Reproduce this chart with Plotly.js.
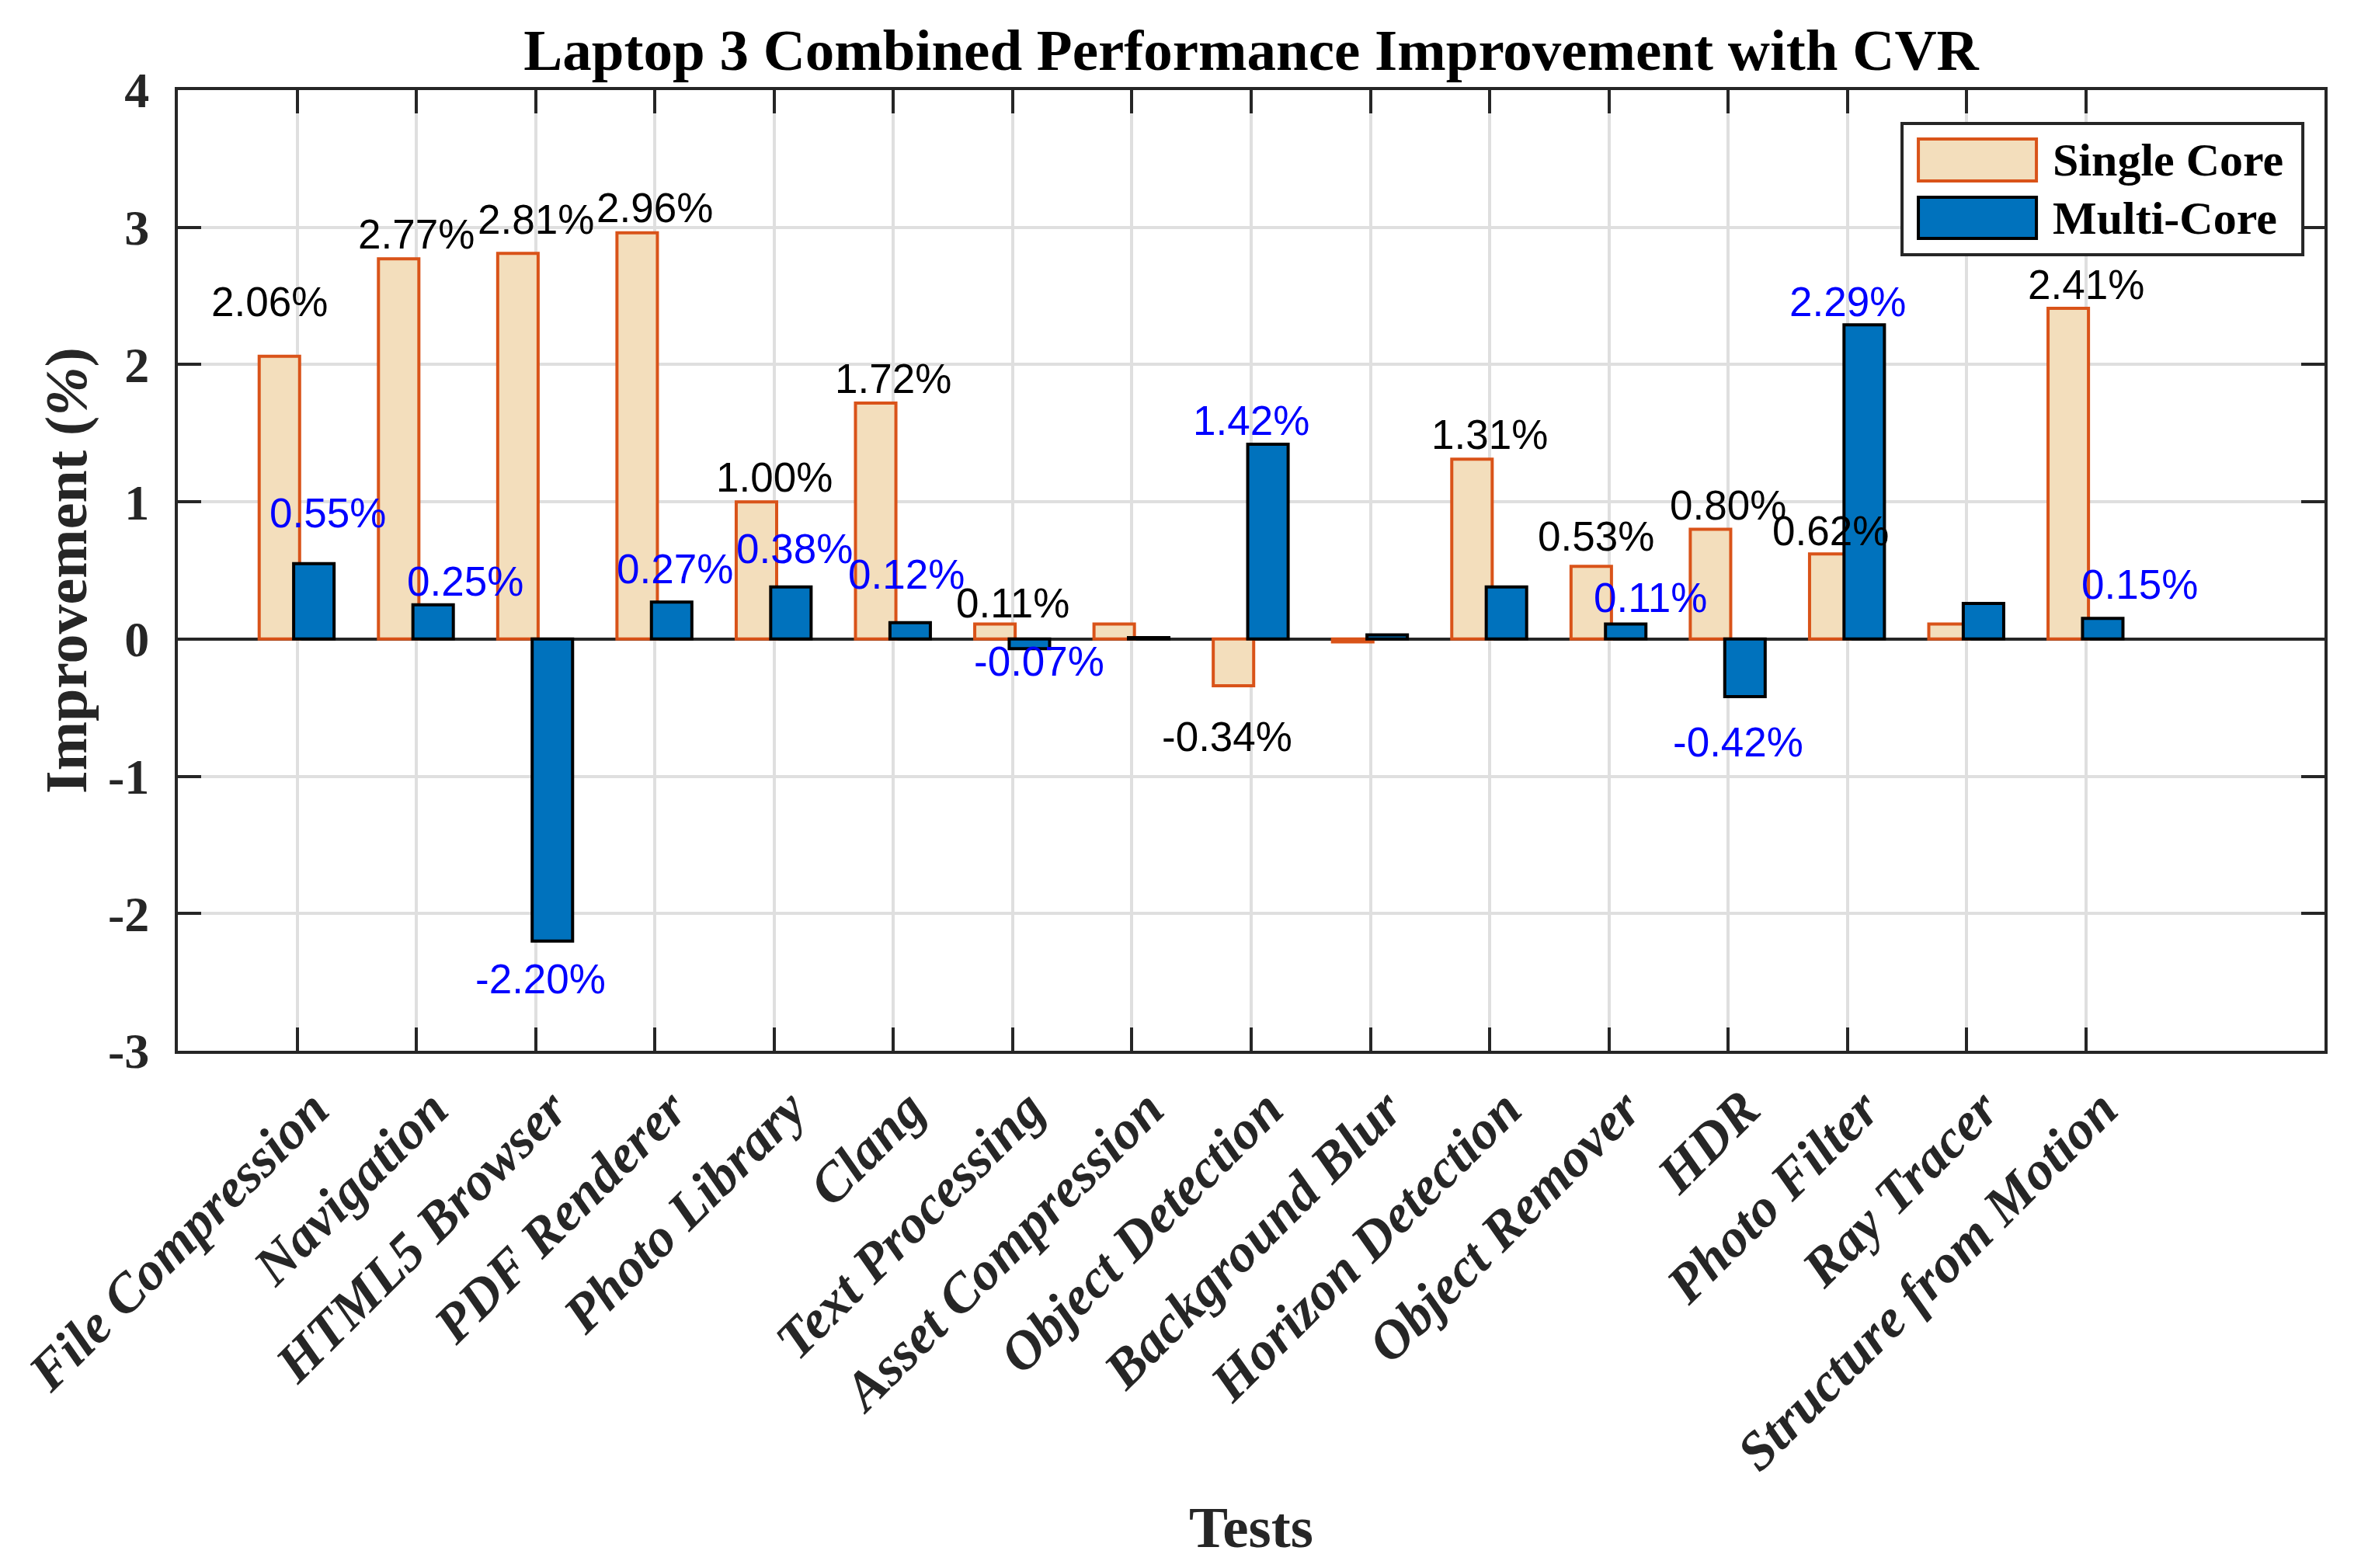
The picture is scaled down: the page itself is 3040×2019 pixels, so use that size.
<!DOCTYPE html>
<html>
<head>
<meta charset="utf-8">
<script src="https://cdn.plot.ly/plotly-3.0.1.min.js"></script>
<style>html,body{margin:0;padding:0;background:#fff;}</style>
</head>
<body>
<div id="chart" style="width:3040px;height:2019px;"></div>
<script>
// ---- data ----
const categories = ['File Compression','Navigation','HTML5 Browser','PDF Renderer','Photo Library','Clang','Text Processing','Asset Compression','Object Detection','Background Blur','Horizon Detection','Object Remover','HDR','Photo Filter','Ray Tracer','Structure from Motion'];
const singleCore = [2.06, 2.77, 2.81, 2.96, 1.00, 1.72, 0.11, 0.11, -0.34, -0.02, 1.31, 0.53, 0.80, 0.62, 0.11, 2.41];
const multiCore  = [0.55, 0.25, -2.20, 0.27, 0.38, 0.12, -0.07, 0.01, 1.42, 0.03, 0.38, 0.11, -0.42, 2.29, 0.26, 0.15];
const singleLabeled = [1,1,1,1,1,1,1,0,1,0,1,1,1,1,0,1];
const multiLabeled  = [1,1,1,1,1,1,1,0,1,0,0,1,1,1,0,1];
const yTickValues = [-3, -2, -1, 0, 1, 2, 3, 4];
const yTickLabels = ['-3', '-2', '-1', '0', '1', '2', '3', '4'];
const seriesNames = ['Single Core', 'Multi-Core'];

// ---- label placement tweaks (layout only) ----
const singleLabelDx = [-0.23, 0, 0, 0, 0, 0, 0, 0, -0.2, 0, 0, -0.11, 0, -0.14, 0, 0];
const singleLabelDy = [0.396, 0.18, 0.25, 0.18, 0.18, 0.18, 0.155, 0, -0.373, 0, 0.18, 0.22, 0.176, 0.166, 0, 0.17];
const multiLabelDx  = [0.26, 0.41, 0.04, 0.17, 0.17, 0.11, 0.22, 0, 0, 0, 0, 0.35, 0.08, 0, 0, 0.45];
const multiLabelDy  = [0.367, 0.17, -0.276, 0.24, 0.28, 0.35, -0.094, 0, 0.17, 0, 0, 0.19, -0.328, 0.17, 0, 0.25];

const serif = 'Liberation Serif, Times New Roman, serif';
const sans = 'Liberation Sans, Arial, Helvetica, sans-serif';
const axisColor = '#262626';
const singleFill = 'rgb(243,222,188)';
const singleEdge = '#D95319';
const multiFill = '#0072BD';
const multiEdge = '#000000';

const traces = [
  {type:'bar', name:seriesNames[0], x:categories, y:singleCore, width:0.339, offset:-0.318,
   marker:{color:singleFill, line:{color:singleEdge, width:4}}, showlegend:false},
  {type:'bar', name:seriesNames[1], x:categories, y:multiCore, width:0.339, offset:-0.029,
   marker:{color:multiFill, line:{color:multiEdge, width:4}}, showlegend:false}
];

const annotations = [];
categories.forEach((c, i) => {
  if (singleLabeled[i]) annotations.push({
    x: i + singleLabelDx[i], y: singleCore[i] + singleLabelDy[i], xref:'x', yref:'y',
    text: singleCore[i].toFixed(2) + '%', showarrow:false, xanchor:'center', yanchor:'middle',
    font:{family:sans, size:53, color:'#000000'}
  });
  if (multiLabeled[i]) annotations.push({
    x: i + multiLabelDx[i], y: multiCore[i] + multiLabelDy[i], xref:'x', yref:'y',
    text: multiCore[i].toFixed(2) + '%', showarrow:false, xanchor:'center', yanchor:'middle',
    font:{family:sans, size:53, color:'#0000FF'}
  });
});

// custom legend (paper coords)
const L = {x0:0.8032, x1:0.9899, y0:0.8286, y1:0.9652};
const shapes = [
  {type:'rect', xref:'paper', yref:'paper', x0:L.x0, x1:L.x1, y0:L.y0, y1:L.y1, fillcolor:'#ffffff', line:{color:axisColor, width:4}, layer:'above'},
  {type:'rect', xref:'paper', yref:'paper', x0:0.8108, x1:0.8658, y0:0.9054, y1:0.9491, fillcolor:singleFill, line:{color:singleEdge, width:4}, layer:'above'},
  {type:'rect', xref:'paper', yref:'paper', x0:0.8108, x1:0.8658, y0:0.8456, y1:0.8884, fillcolor:multiFill, line:{color:multiEdge, width:4}, layer:'above'}
];
annotations.push(
  {xref:'paper', yref:'paper', x:0.8726, y:0.9273, text:seriesNames[0], showarrow:false, xanchor:'left', yanchor:'middle', font:{family:serif, size:60, weight:'bold', color:'#000000'}},
  {xref:'paper', yref:'paper', x:0.8726, y:0.8670, text:seriesNames[1], showarrow:false, xanchor:'left', yanchor:'middle', font:{family:serif, size:60, weight:'bold', color:'#000000'}}
);

const layout = {
  width:3040, height:2019,
  margin:{l:229, r:47, t:116, b:666, pad:0},
  paper_bgcolor:'#ffffff', plot_bgcolor:'#ffffff',
  barmode:'overlay',
  title:{text:'Laptop 3 Combined Performance Improvement with CVR', font:{family:serif, size:75, weight:'bold', color:'#000000'},
         x:0.5, xref:'paper', y:1 - 64/2019, yref:'container', yanchor:'middle'},
  xaxis:{type:'category', range:[-1, 17], showgrid:true, gridcolor:'#dfdfdf', gridwidth:4,
         showline:true, linecolor:axisColor, linewidth:4, mirror:'ticks',
         ticks:'inside', ticklen:30, tickwidth:4, tickcolor:axisColor, tickangle:-45,
         tickfont:{family:serif, size:70, weight:'bold', style:'italic', color:axisColor},
         ticklabelstandoff:2, ticklabelshift:20,
         title:{text:'Tests', font:{family:serif, size:75, weight:'bold', color:axisColor}, standoff:33},
         automargin:false, zeroline:false},
  yaxis:{range:[-3, 4], tickvals:yTickValues, ticktext:yTickLabels, showgrid:true, gridcolor:'#dfdfdf', gridwidth:4,
         showline:true, linecolor:axisColor, linewidth:4, mirror:'ticks',
         ticks:'inside', ticklen:30, tickwidth:4, tickcolor:axisColor,
         tickfont:{family:serif, size:64, weight:'bold', color:axisColor},
         ticklabelstandoff:20,
         zeroline:true, zerolinecolor:axisColor, zerolinewidth:4,
         title:{text:'Improvement (<i>%</i>)', font:{family:serif, size:76, weight:'bold', color:axisColor}, standoff:3},
         automargin:false},
  annotations:annotations,
  shapes:shapes
};

Plotly.newPlot('chart', traces, layout, {displayModeBar:false, staticPlot:true});
</script>
</body>
</html>
